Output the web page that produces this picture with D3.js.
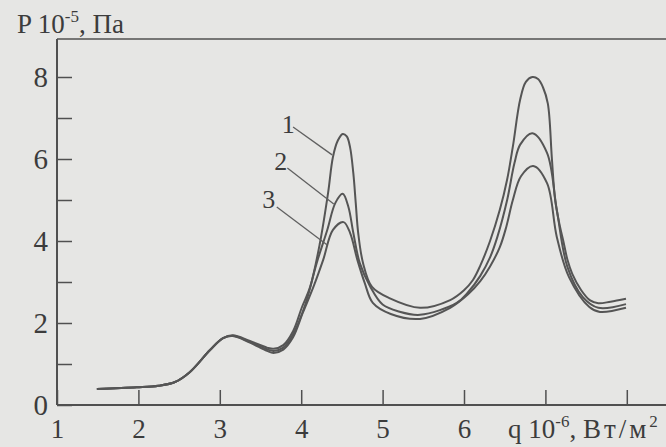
<!DOCTYPE html>
<html>
<head>
<meta charset="utf-8">
<script src="https://cdn.jsdelivr.net/npm/d3@7"></script>
<style>
  body { margin: 0; background: #e6e6e4; }
  svg { display: block; }
  text { font-family: "Liberation Serif", "DejaVu Serif", serif; fill: #3c3c3c; }
</style>
</head>
<body>
<div id="chart"></div>
<script>
// q, 10^6 W/m2  and  P, 10^5 Pa  for curves 1..3
var q1 = [1.49, 1.98, 2.25, 2.45, 2.63, 2.88, 3.04, 3.16, 3.37, 3.58, 3.66, 3.78, 3.90, 4.01, 4.11, 4.23, 4.33, 4.39, 4.45, 4.51, 4.56, 4.60, 4.64, 4.67, 4.70, 4.76, 4.87, 5.09, 5.46, 5.83, 6.00, 6.11, 6.20, 6.32, 6.44, 6.53, 6.60, 6.69, 6.76, 6.84, 6.91, 6.97, 7.03, 7.08, 7.12, 7.18, 7.22, 7.27, 7.33, 7.44, 7.55, 7.65, 7.80, 7.99];
var p1 = [0.39, 0.43, 0.47, 0.56, 0.80, 1.34, 1.63, 1.70, 1.56, 1.40, 1.37, 1.46, 1.80, 2.39, 2.88, 3.95, 5.17, 6.05, 6.45, 6.61, 6.55, 6.29, 5.66, 4.93, 4.20, 3.46, 2.88, 2.60, 2.37, 2.56, 2.80, 3.05, 3.40, 4.00, 4.76, 5.50, 6.30, 7.45, 7.88, 8.00, 7.95, 7.75, 7.35, 6.00, 5.00, 4.34, 4.00, 3.55, 3.20, 2.80, 2.55, 2.48, 2.52, 2.59];

var q2 = [1.49, 1.98, 2.25, 2.45, 2.63, 2.88, 3.04, 3.16, 3.37, 3.58, 3.66, 3.78, 3.90, 4.05, 4.19, 4.32, 4.42, 4.51, 4.58, 4.64, 4.72, 4.85, 5.00, 5.20, 5.46, 5.91, 6.05, 6.20, 6.32, 6.41, 6.53, 6.62, 6.69, 6.84, 7.02, 7.14, 7.27, 7.46, 7.65, 7.99];
var p2 = [0.39, 0.43, 0.47, 0.56, 0.80, 1.34, 1.63, 1.69, 1.54, 1.36, 1.32, 1.40, 1.72, 2.45, 3.46, 4.27, 4.93, 5.15, 4.83, 4.20, 3.46, 2.88, 2.45, 2.28, 2.20, 2.49, 2.75, 3.15, 3.60, 4.10, 5.00, 5.90, 6.35, 6.63, 6.15, 4.76, 3.37, 2.63, 2.37, 2.46];

var q3 = [1.49, 1.98, 2.25, 2.45, 2.63, 2.88, 3.04, 3.16, 3.37, 3.58, 3.66, 3.78, 3.90, 4.02, 4.15, 4.27, 4.39, 4.52, 4.60, 4.69, 4.78, 4.88, 5.10, 5.46, 5.83, 6.05, 6.20, 6.32, 6.44, 6.52, 6.60, 6.70, 6.85, 7.02, 7.14, 7.29, 7.54, 7.67, 7.99];
var p3 = [0.39, 0.43, 0.47, 0.56, 0.80, 1.34, 1.63, 1.68, 1.52, 1.32, 1.27, 1.35, 1.65, 2.25, 2.88, 3.54, 4.27, 4.46, 4.20, 3.54, 2.98, 2.49, 2.22, 2.10, 2.37, 2.70, 3.02, 3.38, 3.85, 4.35, 5.00, 5.58, 5.83, 5.41, 4.10, 3.12, 2.39, 2.27, 2.37];

var curveNames = ["1", "2", "3"];
var xTicks = [1, 2, 3, 4, 5, 6, 7, 8];
var xTickLabels = ["1", "2", "3", "4", "5", "6", "", ""];
var yTicks = [0, 1, 2, 3, 4, 5, 6, 7, 8];
var yTickLabels = ["0", "", "2", "", "4", "", "6", "", "8"];

// label anchor (text) and leader end, in data units
var labelAt = [[3.84, 6.63], [3.75, 5.73], [3.60, 4.80]];
var leaderFrom = [[3.90, 6.78], [3.83, 5.78], [3.70, 4.83]];
var leaderTo = [[4.38, 6.10], [4.40, 4.90], [4.32, 3.90]];

var width = 666, height = 447;
var margin = {left: 57, top: 39, bottom: 42};
var ink = "#505050";

var svg = d3.select("#chart")
    .append("svg")
        .attr("width", width)
        .attr("height", height);

var x = d3.scaleLinear().domain([1, 8.5]).range([margin.left, margin.left + 7.5 * 81.4]);
var y = d3.scaleLinear().domain([0, 8]).range([height - margin.bottom, height - margin.bottom - 8 * 41]);

// frame: top rule and left axis
svg.append("line")
    .attr("x1", margin.left).attr("x2", width)
    .attr("y1", margin.top).attr("y2", margin.top)
    .style("stroke", ink).style("stroke-width", 1.6);
svg.append("line")
    .attr("x1", margin.left).attr("x2", margin.left)
    .attr("y1", margin.top).attr("y2", y(0))
    .style("stroke", ink).style("stroke-width", 2);

var xAxis = svg.append("g")
    .attr("transform", "translate(0," + y(0) + ")")
    .call(d3.axisBottom(x)
        .tickValues(xTicks)
        .tickSizeInner(-15)
        .tickSizeOuter(0)
        .tickPadding(33)
        .tickFormat(function(d, i) { return xTickLabels[i]; }));
xAxis.select(".domain").attr("d", "M" + margin.left + ",0H" + width)
    .style("stroke", ink).style("stroke-width", 2);
xAxis.selectAll(".tick line").style("stroke", ink).style("stroke-width", 1.5);
xAxis.selectAll(".tick text")
    .attr("font-family", null).attr("font-size", null)
    .style("font-size", "27px").style("fill", "#3c3c3c")
    .attr("dy", "0");

var yAxis = svg.append("g")
    .attr("transform", "translate(" + margin.left + ",0)")
    .call(d3.axisLeft(y)
        .tickValues(yTicks)
        .tickSizeInner(-15)
        .tickSizeOuter(0)
        .tickPadding(9)
        .tickFormat(function(d, i) { return yTickLabels[i]; }));
yAxis.select(".domain").remove();
yAxis.selectAll(".tick line").style("stroke", ink).style("stroke-width", 1.5);
yAxis.selectAll(".tick text")
    .attr("font-family", null).attr("font-size", null)
    .style("font-size", "29px").style("fill", "#3c3c3c")
    .attr("dy", "0.34em");

// axis titles
var yTitle = svg.append("text")
    .attr("x", 17).attr("y", 33)
    .style("font-size", "27px");
yTitle.append("tspan").text("P 10");
yTitle.append("tspan").attr("dy", -11).style("font-size", "17px").text("-5");
yTitle.append("tspan").attr("dy", 11).text(", Па");

var xTitle = svg.append("text")
    .attr("x", 508).attr("y", 438)
    .style("font-size", "27px");
xTitle.append("tspan").text("q 10");
xTitle.append("tspan").attr("dy", -11).style("font-size", "17px").text("-6");
xTitle.append("tspan").attr("dy", 11).text(", ");
xTitle.append("tspan").style("letter-spacing", "3px").text("Вт/м");
xTitle.append("tspan").attr("dy", -11).style("font-size", "17px").text("2");

// curves
var series = [
    {name: curveNames[0], q: q1, p: p1},
    {name: curveNames[1], q: q2, p: p2},
    {name: curveNames[2], q: q3, p: p3}
];

var line = d3.line()
    .x(function(d) { return x(d[0]); })
    .y(function(d) { return y(d[1]); })
    .curve(d3.curveCatmullRom.alpha(0.5));

svg.selectAll("path.curve")
    .data(series)
    .enter()
    .append("path")
    .attr("class", "curve")
    .attr("d", function(s) { return line(d3.zip(s.q, s.p)); })
    .style("fill", "none")
    .style("stroke", "#555")
    .style("stroke-width", 2);

// curve numbers with leader lines
svg.selectAll("line.leader")
    .data(series)
    .enter()
    .append("line")
    .attr("class", "leader")
    .attr("x1", function(d, i) { return x(leaderFrom[i][0]); })
    .attr("y1", function(d, i) { return y(leaderFrom[i][1]); })
    .attr("x2", function(d, i) { return x(leaderTo[i][0]); })
    .attr("y2", function(d, i) { return y(leaderTo[i][1]); })
    .style("stroke", "#606060")
    .style("stroke-width", 1.3);

svg.selectAll("text.num")
    .data(series)
    .enter()
    .append("text")
    .attr("class", "num")
    .attr("x", function(d, i) { return x(labelAt[i][0]); })
    .attr("y", function(d, i) { return y(labelAt[i][1]); })
    .style("text-anchor", "middle")
    .style("font-size", "26px")
    .text(function(d) { return d.name; });
</script>
</body>
</html>
